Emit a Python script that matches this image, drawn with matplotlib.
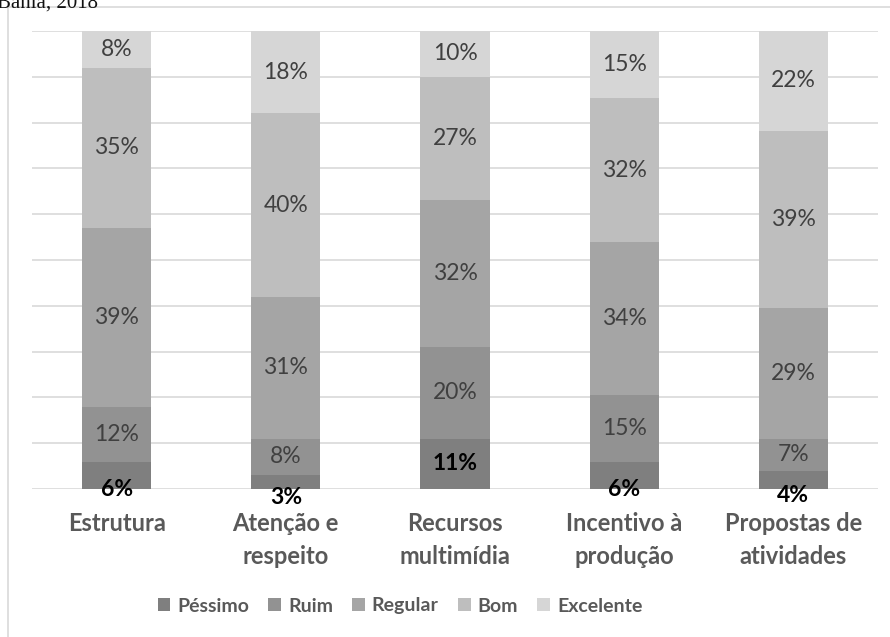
import numpy as np
import matplotlib.pyplot as plt
from matplotlib.patches import Rectangle

plt.rcParams['font.family'] = ['Lato', 'DejaVu Sans']

categorias = ['Estrutura', 'Atenção e\nrespeito', 'Recursos\nmultimídia',
              'Incentivo à\nprodução', 'Propostas de\natividades']
series = ['Péssimo', 'Ruim', 'Regular', 'Bom', 'Excelente']
pessimo = [6, 3, 11, 6, 4]
ruim = [12, 8, 20, 15, 7]
regular = [39, 31, 32, 34, 29]
bom = [35, 40, 27, 32, 39]
excelente = [8, 18, 10, 15, 22]

cores = ['#7f7f7f', '#929292', '#a5a5a5', '#bebebe', '#d6d6d6']

valores = np.array([pessimo, ruim, regular, bom, excelente], dtype=float)
# 100% stacked: each column scaled to its own total
pct = valores / valores.sum(axis=0) * 100

W, H = 890, 637
fig = plt.figure(figsize=(W / 100, H / 100), dpi=100)
ax = fig.add_axes([32 / W, 1 - 489 / H, (878 - 32) / W, (489 - 31) / H])

# outer chart frame and caption cut at top
fig.patches.append(Rectangle((8 / W, -0.1), 1.2, 1 - 7 / H + 0.1, transform=fig.transFigure,
                             fill=False, edgecolor='#d9d9d9', linewidth=1.2))
fig.text(-0.003, 1 - 8 / H, 'Bahia, 2018', family='Liberation Serif', fontsize=15,
         color='#111111', va='baseline', ha='left')

x = np.arange(len(categorias))
base = np.zeros(len(categorias))
# vertical nudge (in % units) for the Péssimo labels that Excel pushed down
desloc_pessimo = [-3.0, -3.4, 0, -3.0, -3.4]
for i, nome in enumerate(series):
    ax.bar(x, pct[i], 0.41, bottom=base, color=cores[i], label=nome,
           edgecolor='none', zorder=2)
    for j in range(len(categorias)):
        yc = base[j] + pct[i][j] / 2
        txt = f'{int(valores[i][j])}%'
        if i == 0:
            ax.text(x[j], yc + desloc_pessimo[j], txt, ha='center', va='center',
                    fontsize=16.5, fontweight='bold', color='black', zorder=3)
        else:
            ax.text(x[j], yc, txt, ha='center', va='center', fontsize=16.5,
                    color='#404040', zorder=3)
    base += pct[i]

ax.set_xlim(-0.5, len(categorias) - 0.5)
ax.set_ylim(0, 100)
ax.set_yticks(np.arange(0, 101, 10))
ax.yaxis.grid(True, color='#d9d9d9', linewidth=1.2, zorder=0)
ax.tick_params(axis='y', left=False, labelleft=False)
ax.tick_params(axis='x', bottom=False, pad=13)
ax.set_xticks(x)
ax.set_xticklabels(categorias, fontsize=17, fontweight='bold', color='#595959',
                   linespacing=1.55)
for s in ax.spines.values():
    s.set_visible(False)
ax.set_facecolor('none')

leg = fig.legend(loc='center', bbox_to_anchor=(400 / W, 1 - 606 / H), ncol=5,
                 frameon=False, handlelength=0.65, handleheight=0.65, handletextpad=0.35,
                 columnspacing=1.0, prop={'size': 14, 'weight': 'bold'})
for t in leg.get_texts():
    t.set_color('#595959')

fig.savefig('out.png', dpi=100)
